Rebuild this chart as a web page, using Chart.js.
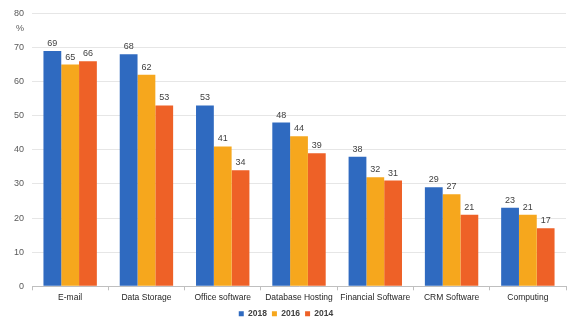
<!DOCTYPE html>
<html>
<head>
<meta charset="utf-8">
<script src="https://cdn.jsdelivr.net/npm/chart.js@4/dist/chart.umd.min.js"></script>
<style>
  html, body { margin: 0; padding: 0; background: #fff; }
  #wrap { width: 569px; height: 320px; }
</style>
</head>
<body>
<div id="wrap"><canvas id="chart"></canvas></div>
<script>
const categories = ["E-mail", "Data Storage", "Office software", "Database Hosting", "Financial Software", "CRM Software", "Computing"];
const values2018 = [69, 68, 53, 48, 38, 29, 23];
const values2016 = [65, 62, 41, 44, 32, 27, 21];
const values2014 = [66, 53, 34, 39, 31, 21, 17];
const yTicks = [0, 10, 20, 30, 40, 50, 60, 70, 80];

// value labels above every bar, plus the "%" unit under the top tick
const barLabels = {
    id: "barLabels",
    afterDatasetsDraw(chart) {
        const ctx = chart.ctx;
        ctx.save();
        ctx.font = "9px 'Liberation Sans', Arial, sans-serif";
        ctx.fillStyle = "#404040";
        ctx.textAlign = "center";
        ctx.textBaseline = "bottom";
        chart.data.datasets.forEach((ds, i) => {
            chart.getDatasetMeta(i).data.forEach((bar, j) => {
                ctx.fillText(ds.data[j], bar.x, bar.y - 3);
            });
        });
        const y = chart.scales.y;
        ctx.textAlign = "right";
        ctx.textBaseline = "middle";
        ctx.fillStyle = "#595959";
        ctx.fillText("%", y.right - 8, y.getPixelForValue(75.5));
        ctx.restore();
    },
};

new Chart(document.getElementById("chart").getContext("2d"), {
    type: "bar",
    data: {
        labels: categories,
        datasets: [
            { label: "2018", data: values2018, backgroundColor: "#2f6ac0" },
            { label: "2016", data: values2016, backgroundColor: "#f6a71d" },
            { label: "2014", data: values2014, backgroundColor: "#ee6127" },
        ],
    },
    options: {
        responsive: true,
        maintainAspectRatio: false,
        animation: false,
        layout: { padding: { top: 6, right: 3, left: 6, bottom: -8 } },
        datasets: {
            bar: { barPercentage: 1, categoryPercentage: 0.7 },
        },
        scales: {
            x: {
                grid: {
                    display: true,
                    drawOnChartArea: false,
                    tickLength: 4,
                    color: "#bfbfbf",
                },
                border: { color: "#bfbfbf" },
                ticks: {
                    color: "#262626",
                    padding: 2,
                    maxRotation: 0,
                    autoSkip: false,
                    font: { size: 8.5, family: "'Liberation Sans', Arial, sans-serif" },
                },
            },
            y: {
                min: 0,
                max: 80,
                afterBuildTicks: (axis) => {
                    axis.ticks = yTicks.map((v) => ({ value: v }));
                },
                grid: { color: "#e6e6e6", tickLength: 0 },
                border: { display: false },
                ticks: {
                    color: "#595959",
                    padding: 8,
                    font: { size: 9, family: "'Liberation Sans', Arial, sans-serif" },
                },
            },
        },
        plugins: {
            legend: {
                position: "bottom",
                labels: {
                    usePointStyle: true,
                    pointStyle: "rect",
                    boxWidth: 5,
                    boxHeight: 5,
                    padding: 5,
                    color: "#404040",
                    font: { size: 8.5, weight: "bold", family: "'Liberation Sans', Arial, sans-serif" },
                },
            },
            tooltip: { enabled: false },
        },
    },
    plugins: [barLabels],
});
</script>
</body>
</html>
